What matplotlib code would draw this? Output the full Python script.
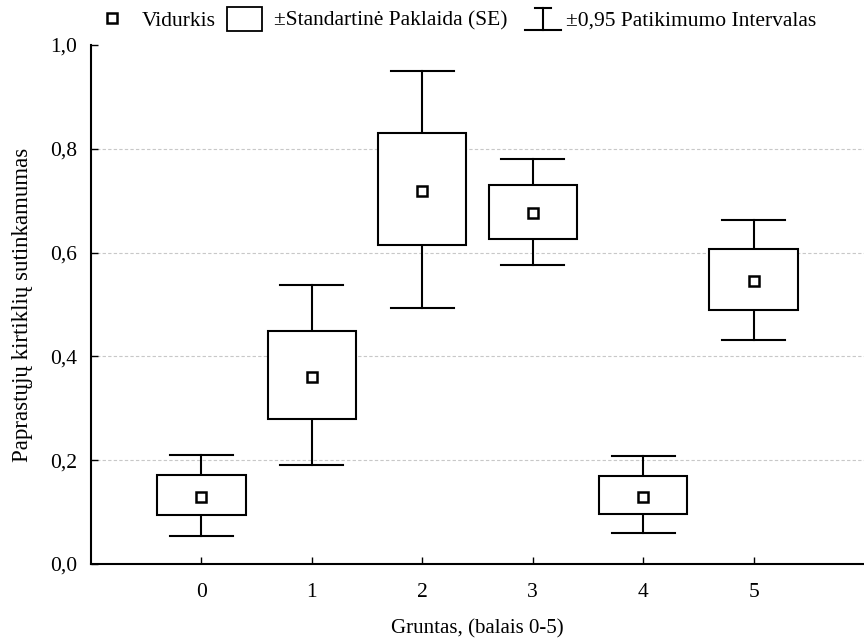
import numpy as np
import matplotlib
matplotlib.use('Agg')
import matplotlib.pyplot as plt
from matplotlib.patches import Rectangle
from matplotlib.lines import Line2D
from matplotlib.legend_handler import HandlerBase

plt.rcParams['font.family'] = ['Liberation Serif', 'DejaVu Serif']

# duomenys (nuskaityta is paveikslo)
grupes = [0, 1, 2, 3, 4, 5]
vidurkis = [0.129, 0.360, 0.719, 0.676, 0.129, 0.546]
se_apacia = [0.094, 0.279, 0.614, 0.627, 0.096, 0.489]
se_virsus = [0.171, 0.449, 0.830, 0.730, 0.170, 0.606]
pi_apacia = [0.054, 0.191, 0.494, 0.576, 0.059, 0.431]
pi_virsus = [0.210, 0.537, 0.950, 0.780, 0.208, 0.663]
y_ticks = [0.0, 0.2, 0.4, 0.6, 0.8, 1.0]
y_labels = ['0,0', '0,2', '0,4', '0,6', '0,8', '1,0']

box_w = 0.8
cap_w = 0.57
lw = 1.5
fs = 15.5


class IBeamHandler(HandlerBase):
    def create_artists(self, legend, orig_handle, xdescent, ydescent,
                       width, height, fontsize, trans):
        cx = width / 2 - xdescent + 5
        top = height * 1.15 - ydescent
        bot = -height * 0.3 - ydescent
        l1 = Line2D([cx - width * 0.22, cx + width * 0.22], [top, top], color='k', lw=lw)
        l2 = Line2D([cx, cx], [bot, top], color='k', lw=lw)
        l3 = Line2D([cx - width * 0.5, cx + width * 0.5], [bot, bot], color='k', lw=lw)
        for a in (l1, l2, l3):
            a.set_transform(trans)
        return [l1, l2, l3]


class BoxHandler(HandlerBase):
    def create_artists(self, legend, orig_handle, xdescent, ydescent,
                       width, height, fontsize, trans):
        r = Rectangle((-xdescent, -ydescent - height * 0.35), width, height * 1.6,
                      facecolor='white', edgecolor='k', lw=1.3, transform=trans)
        return [r]


fig = plt.figure(figsize=(8.64, 6.42), dpi=100)
ax = fig.add_axes([0.1053, 0.1215, 0.8947, 0.8084])

for yv in y_ticks[1:-1]:
    ax.axhline(yv, color='#c8c8c8', lw=0.8, ls=(0, (3, 2)), zorder=0)

for i, g in enumerate(grupes):
    ax.plot([g, g], [pi_apacia[i], se_apacia[i]], color='k', lw=lw, zorder=2)
    ax.plot([g, g], [se_virsus[i], pi_virsus[i]], color='k', lw=lw, zorder=2)
    ax.plot([g - cap_w / 2, g + cap_w / 2], [pi_apacia[i]] * 2, color='k', lw=lw, zorder=2)
    ax.plot([g - cap_w / 2, g + cap_w / 2], [pi_virsus[i]] * 2, color='k', lw=lw, zorder=2)
    ax.add_patch(Rectangle((g - box_w / 2, se_apacia[i]), box_w,
                           se_virsus[i] - se_apacia[i], facecolor='white',
                           edgecolor='k', lw=lw, zorder=3))
ax.plot(grupes, vidurkis, ls='none', marker='s', ms=7, mfc='white',
        mec='k', mew=1.8, zorder=4)

ax.set_xlim(-1, 6)
ax.set_ylim(0, 1.0)
ax.set_xticks(grupes)
ax.set_xticklabels([str(g) for g in grupes])
ax.set_yticks(y_ticks)
ax.set_yticklabels(y_labels)
ax.tick_params(direction='in', length=5, width=1.0, labelsize=fs)
ax.tick_params(axis='x', pad=14)
ax.tick_params(axis='y', pad=10)
for s in ['top', 'right']:
    ax.spines[s].set_visible(False)
for s in ['left', 'bottom']:
    ax.spines[s].set_linewidth(1.5)

ax.set_xlabel('Gruntas, (balais 0-5)', fontsize=15, labelpad=12)
ax.set_ylabel('Paprastųjų kirtiklių sutinkamumas', fontsize=16.5, labelpad=12)

h_mean = Line2D([], [], ls='none', marker='s', ms=7, mfc='white', mec='k', mew=1.8)
h_box = Rectangle((0, 0), 1, 1)
h_ci = Line2D([], [])
fig.legend([h_mean, h_box, h_ci],
           ['Vidurkis', '±Standartinė Paklaida (SE)', '±0,95 Patikimumo Intervalas'],
           handler_map={h_ci: IBeamHandler(), h_box: BoxHandler()},
           loc='center', bbox_to_anchor=(0.527, 0.968), ncol=3, frameon=False,
           fontsize=fs, handlelength=1.65, handletextpad=0.55, columnspacing=0.5)

fig.savefig('out.png', dpi=100)
